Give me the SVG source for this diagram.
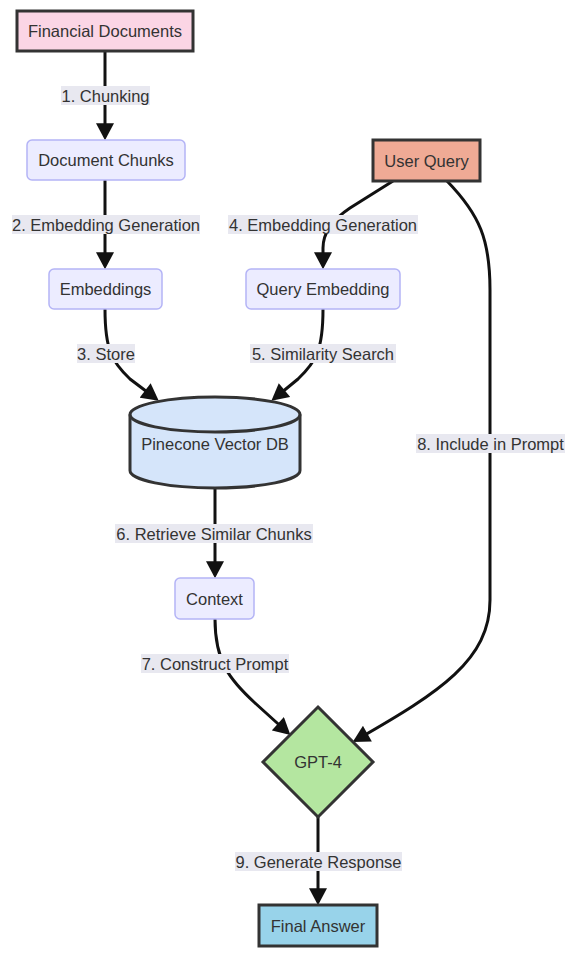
<svg xmlns="http://www.w3.org/2000/svg" width="577" height="960" viewBox="0 0 577 960">
<style>
text{font-family:"Liberation Sans",Arial,sans-serif;font-size:16.5px;fill:#333;text-anchor:middle;dominant-baseline:central}
.plain{fill:#ececff;stroke:#b4b4f6;stroke-width:1.5}
.strong{stroke:#333;stroke-width:3}
.edge{fill:none;stroke:#111;stroke-width:3}
.lbl{fill:#e8e8f0}
</style>
<defs>
<marker id="arr" markerUnits="userSpaceOnUse" markerWidth="18" markerHeight="18" viewBox="0 0 16 17" refX="11" refY="8.5" orient="auto">
<path d="M0,0 L16,8.5 L0,17 z" fill="#111"/>
</marker>
</defs>
<g id="edges">
<path class="edge" d="M105,51 L105,135" marker-end="url(#arr)"/>
<path class="edge" d="M105,180 L105,264" marker-end="url(#arr)"/>
<path class="edge" d="M105,309 C105,350 112,362 130,379 L154.5,397.5" marker-end="url(#arr)"/>
<path class="edge" d="M323,309 C323,350 316,362 298,379 L275.5,397.5" marker-end="url(#arr)"/>
<path class="edge" d="M393,181 L350,208 Q323,226 323,248 L323,264" marker-end="url(#arr)"/>
<path class="edge" d="M447,181 C480,215 490,240 490,290 L490,600 C490,660 440,692 357.3,739.4" marker-end="url(#arr)"/>
<path class="edge" d="M215,488 L215,573" marker-end="url(#arr)"/>
<path class="edge" d="M215,619 C215,662 230,680 255,703 L286.5,731.5" marker-end="url(#arr)"/>
<path class="edge" d="M318,817 L318,900" marker-end="url(#arr)"/>
<g id="edge-labels">
<rect class="lbl" x="61" y="86" width="89" height="19"/><text x="105.5" y="96">1. Chunking</text>
<rect class="lbl" x="12" y="215" width="188" height="19"/><text x="106" y="225">2. Embedding Generation</text>
<rect class="lbl" x="77" y="344" width="58" height="19"/><text x="106" y="354">3. Store</text>
<rect class="lbl" x="228" y="215" width="190" height="19"/><text x="323" y="225">4. Embedding Generation</text>
<rect class="lbl" x="250" y="344" width="146" height="19"/><text x="323" y="354">5. Similarity Search</text>
<rect class="lbl" x="115" y="524" width="198" height="19"/><text x="214" y="534">6. Retrieve Similar Chunks</text>
<rect class="lbl" x="141" y="654" width="148" height="19"/><text x="215" y="664">7. Construct Prompt</text>
<rect class="lbl" x="416" y="434" width="149" height="19"/><text x="490.5" y="444">8. Include in Prompt</text>
<rect class="lbl" x="235" y="852" width="167" height="19"/><text x="318.5" y="862">9. Generate Response</text>
</g>
</g>
<g id="financial-documents">
<rect class="strong" x="17" y="11" width="176" height="40" fill="#fbd5e5"/>
<text x="105" y="31">Financial Documents</text>
</g>
<g id="document-chunks">
<rect class="plain" x="27" y="140" width="158" height="40" rx="5"/>
<text x="106" y="160">Document Chunks</text>
</g>
<g id="embeddings">
<rect class="plain" x="49" y="269" width="113" height="40" rx="5"/>
<text x="105.5" y="289">Embeddings</text>
</g>
<g id="user-query">
<rect class="strong" x="373" y="140" width="107" height="41" fill="#efaa95"/>
<text x="426.5" y="160.5">User Query</text>
</g>
<g id="query-embedding">
<rect class="plain" x="246" y="269" width="154" height="40" rx="5"/>
<text x="323" y="289">Query Embedding</text>
</g>
<g id="pinecone-vector-db">
<path class="strong" d="M130,414.5 A85,17.5 0 0 1 300,414.5 L300,470.5 A85,17.5 0 0 1 130,470.5 Z" fill="#d5e5fa"/>
<path class="strong" d="M130,414.5 A85,17.5 0 0 0 300,414.5" fill="none"/>
<text x="215" y="444">Pinecone Vector DB</text>
</g>
<g id="context">
<rect class="plain" x="175" y="578" width="79" height="41" rx="5"/>
<text x="214.5" y="599">Context</text>
</g>
<g id="gpt-4">
<path class="strong" d="M318,707 L373,762 L318,817 L263,762 Z" fill="#b4e6a0"/>
<text x="318" y="762">GPT-4</text>
</g>
<g id="final-answer">
<rect class="strong" x="259" y="905" width="118" height="41" fill="#98d3ea"/>
<text x="318" y="925.5">Final Answer</text>
</g>
</svg>
